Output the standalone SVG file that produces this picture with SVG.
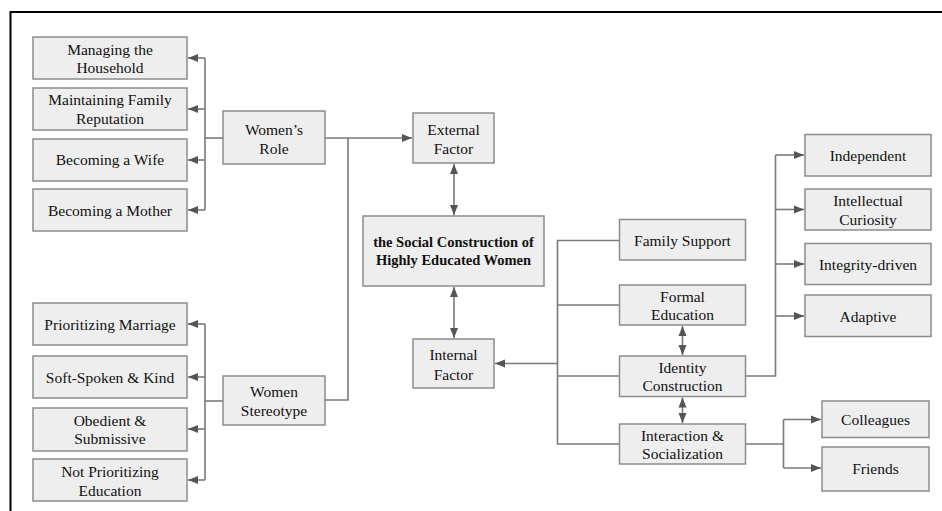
<svg xmlns="http://www.w3.org/2000/svg" width="942" height="511" viewBox="0 0 942 511">
<style>
.box{fill:#eeeeee;stroke:#8c8c8c;stroke-width:1.5}
text{font-family:'Liberation Serif','DejaVu Serif',serif;font-size:15.5px;fill:#111;text-anchor:middle}
.b{font-weight:bold;font-size:14.5px}
.c{fill:none;stroke:#7a7a7a;stroke-width:1.6}
</style>
<defs>
<marker id="ah" viewBox="0 0 10 10" refX="10" refY="5" markerWidth="10" markerHeight="10" markerUnits="userSpaceOnUse" orient="auto-start-reverse">
<path d="M0,1 L10,5 L0,9 Z" fill="#555"/>
</marker>
</defs>
<rect width="942" height="511" fill="#fff"/>
<path d="M10.5,511 V12 H942" fill="none" stroke="#000" stroke-width="2"/>
<g id="connectors">
<path class="c" d="M223,138 H205"/>
<path class="c" d="M205,58 V210"/>
<path class="c" d="M205,58 H188" marker-end="url(#ah)"/>
<path class="c" d="M205,109 H188" marker-end="url(#ah)"/>
<path class="c" d="M205,160 H188" marker-end="url(#ah)"/>
<path class="c" d="M205,210 H188" marker-end="url(#ah)"/>
<path class="c" d="M223,401 H205"/>
<path class="c" d="M205,324 V480"/>
<path class="c" d="M205,324 H188" marker-end="url(#ah)"/>
<path class="c" d="M205,377 H188" marker-end="url(#ah)"/>
<path class="c" d="M205,429 H188" marker-end="url(#ah)"/>
<path class="c" d="M205,480 H188" marker-end="url(#ah)"/>
<path class="c" d="M325,138 H412" marker-end="url(#ah)"/>
<path class="c" d="M325,400 H348 V138"/>
<path class="c" d="M454,164 V215" marker-start="url(#ah)" marker-end="url(#ah)"/>
<path class="c" d="M454,287 V338" marker-start="url(#ah)" marker-end="url(#ah)"/>
<path class="c" d="M557.5,363.5 H495" marker-end="url(#ah)"/>
<path class="c" d="M619,240.5 H557.5 V444 H619"/>
<path class="c" d="M557.5,305 H619"/>
<path class="c" d="M557.5,376 H619"/>
<path class="c" d="M682.5,326 V355" marker-start="url(#ah)" marker-end="url(#ah)"/>
<path class="c" d="M682.5,397.5 V423" marker-start="url(#ah)" marker-end="url(#ah)"/>
<path class="c" d="M746,376 H775.5 V155"/>
<path class="c" d="M775.5,155 H804" marker-end="url(#ah)"/>
<path class="c" d="M775.5,209.5 H804" marker-end="url(#ah)"/>
<path class="c" d="M775.5,264 H804" marker-end="url(#ah)"/>
<path class="c" d="M775.5,316 H804" marker-end="url(#ah)"/>
<path class="c" d="M746,444 H783.5"/>
<path class="c" d="M783.5,419.5 V468"/>
<path class="c" d="M783.5,419.5 H821" marker-end="url(#ah)"/>
<path class="c" d="M783.5,468 H821" marker-end="url(#ah)"/>
</g>
<g id="managing"><rect class="box" x="33" y="37" width="154" height="42"/><text x="110" y="55">Managing the</text><text x="110" y="73">Household</text></g>
<g id="maintaining"><rect class="box" x="33" y="88" width="154" height="42"/><text x="110" y="105">Maintaining Family</text><text x="110" y="124">Reputation</text></g>
<g id="wife"><rect class="box" x="33" y="139" width="154" height="42"/><text x="110" y="165">Becoming a Wife</text></g>
<g id="mother"><rect class="box" x="33" y="189" width="154" height="42"/><text x="110" y="216">Becoming a Mother</text></g>
<g id="womens-role"><rect class="box" x="223" y="111" width="102" height="53"/><text x="274" y="135">Women’s</text><text x="274" y="154">Role</text></g>
<g id="prioritizing"><rect class="box" x="33" y="303" width="154" height="42"/><text x="110" y="330">Prioritizing Marriage</text></g>
<g id="soft"><rect class="box" x="33" y="356" width="154" height="42"/><text x="110" y="383">Soft-Spoken &amp; Kind</text></g>
<g id="obedient"><rect class="box" x="33" y="408" width="154" height="43"/><text x="110" y="426">Obedient &amp;</text><text x="110" y="444">Submissive</text></g>
<g id="not-prioritizing"><rect class="box" x="33" y="459" width="154" height="42"/><text x="110" y="477">Not Prioritizing</text><text x="110" y="496">Education</text></g>
<g id="women-stereotype"><rect class="box" x="223" y="376" width="102" height="49"/><text x="274" y="397">Women</text><text x="274" y="416">Stereotype</text></g>
<g id="external"><rect class="box" x="413" y="113" width="81" height="50"/><text x="453.5" y="135">External</text><text x="453.5" y="154">Factor</text></g>
<g id="central"><rect class="box" x="363" y="216" width="181" height="70"/><text class="b" x="453.5" y="247">the Social Construction of</text><text class="b" x="453.5" y="265">Highly Educated Women</text></g>
<g id="internal"><rect class="box" x="413" y="339" width="81" height="49"/><text x="453.5" y="360">Internal</text><text x="453.5" y="380">Factor</text></g>
<g id="family"><rect class="box" x="619.5" y="219.5" width="126" height="40.5"/><text x="682.5" y="246">Family Support</text></g>
<g id="formal"><rect class="box" x="619.5" y="285" width="126" height="40"/><text x="682.5" y="302">Formal</text><text x="682.5" y="320">Education</text></g>
<g id="identity"><rect class="box" x="619.5" y="356" width="126" height="40.5"/><text x="682.5" y="373">Identity</text><text x="682.5" y="391">Construction</text></g>
<g id="interaction"><rect class="box" x="619.5" y="424" width="126" height="40"/><text x="682.5" y="441">Interaction &amp;</text><text x="682.5" y="459">Socialization</text></g>
<g id="independent"><rect class="box" x="805" y="134.5" width="126" height="41.5"/><text x="868" y="161">Independent</text></g>
<g id="curiosity"><rect class="box" x="805" y="189" width="126" height="41"/><text x="868" y="206">Intellectual</text><text x="868" y="225">Curiosity</text></g>
<g id="integrity"><rect class="box" x="805" y="243.5" width="126" height="41"/><text x="868" y="270">Integrity-driven</text></g>
<g id="adaptive"><rect class="box" x="805" y="295" width="126" height="41.5"/><text x="868" y="322">Adaptive</text></g>
<g id="colleagues"><rect class="box" x="822" y="401" width="107" height="36.5"/><text x="875.5" y="425">Colleagues</text></g>
<g id="friends"><rect class="box" x="822" y="447" width="107" height="44"/><text x="875.5" y="474">Friends</text></g>
</svg>
